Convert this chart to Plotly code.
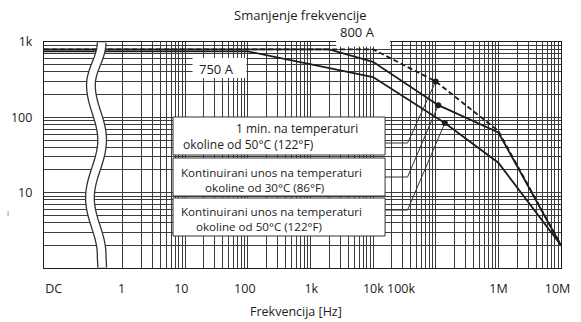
import numpy as np
import plotly.graph_objects as go

# ---- figure geometry -------------------------------------------------------
W, H = 581, 322
L, R, T, B = 41, 11, 42, 54
PW, PH = W - L - R, H - T - B
XR = (-1.25, 7.0)          # log10(Hz); the strip left of 1 Hz stands for DC
YR = (0.0, 3.0)            # log10(A)


def fx(px):
    """horizontal pixel -> frequency in Hz"""
    return 10 ** (XR[0] + (px - L) / PW * (XR[1] - XR[0]))


def fy(py):
    """vertical pixel -> current in A"""
    return 10 ** (YR[1] - (py - T) / PH * (YR[1] - YR[0]))


def paper_x(px):
    return (px - L) / PW


def paper_y(py):
    return 1 - (py - T) / PH


# ---- data ------------------------------------------------------------------
DC = 10 ** XR[0]           # DC is drawn at the left edge of the axis

freq_1min_50c = [DC, 1e4, 1e5, 1e6, 1e7]
amp_1min_50c = [800, 800, 300, 66, 2]

freq_cont_30c = [DC, 2e3, 1e4, 1.1e5, 1e6, 1e7]
amp_cont_30c = [800, 800, 545, 145, 63, 2]

freq_cont_50c = [DC, 100, 1e4, 1.4e5, 1e6, 1e7]
amp_cont_50c = [750, 750, 343, 84, 25, 2]

# marked points that the captions point at
dot_freq = [1e5, 1.1e5, 1.4e5]
dot_amp = [300, 145, 84]

caption_lines = [
    ("1 min. na temperaturi", "okoline od 50°C (122°F)"),
    ("Kontinuirani unos na temperaturi", "okoline od 30°C (86°F)"),
    ("Kontinuirani unos na temperaturi", "okoline od 50°C (122°F)"),
]

x_tick_text = ["DC", "1", "10", "100", "1k", "10k 100k", "1M", "10M"]
x_tick_px = [51, 120.5, 181.5, 246.5, 314.5, 394, 506, 566.5]
y_tick_vals = [10, 100, 1000]
y_tick_text = ["10", "100", "1k"]

# grid lines: every 1..9 step of each decade
x_grid = [m * 10 ** e for e in range(0, 7) for m in range(1, 10)] + [1e7]
y_minor = [m * 10 ** e for e in range(0, 3) for m in range(2, 10)]

INK = "#1c1c1c"
GRID = "#3c3c3c"
FONT = "Open Sans"
NB = "\u00a0"

fig = go.Figure()

line_style = dict(color=INK, width=1.8)
fig.add_trace(go.Scatter(x=freq_cont_50c, y=amp_cont_50c, mode="lines",
                         line=line_style, hoverinfo="skip"))
fig.add_trace(go.Scatter(x=freq_cont_30c, y=amp_cont_30c, mode="lines",
                         line=line_style, hoverinfo="skip"))
fig.add_trace(go.Scatter(x=freq_1min_50c, y=amp_1min_50c, mode="lines",
                         line=dict(color=INK, width=1.8, dash="5px,3px"),
                         hoverinfo="skip"))

# caption boxes and their leader lines
box_x0, box_x1, knee_x = 173, 390, 413
# (top, bottom, leader y, text left, text centre y, indent of 2nd line in spaces)
boxes = [(117, 155, 143, None, None, None),
         (158, 196, 177, 180, 179.5, 8),
         (198, 236, 210, 180, 218.5, 5)]

shapes = []
annotations = []
for (y0, y1, yl, tx, ty, ind), fd, ad, (t1, t2) in zip(boxes, dot_freq, dot_amp, caption_lines):
    fig.add_trace(go.Scatter(x=[fx(box_x1), fx(knee_x), fd],
                             y=[fy(yl), fy(yl), ad],
                             mode="lines", line=dict(color="#333333", width=1),
                             hoverinfo="skip"))
    shapes.append(dict(type="rect", xref="paper", yref="paper",
                       x0=paper_x(box_x0), x1=paper_x(box_x1),
                       y0=paper_y(y1), y1=paper_y(y0),
                       fillcolor="white", line=dict(color="#333333", width=1),
                       layer="above"))
    if tx is None:
        # first caption: two separately centred lines
        for txt, (cx, cy) in ((t1, (300, 128.5)), (t2, (250, 144.5))):
            annotations.append(dict(text=txt, xref="paper", yref="paper",
                                    x=paper_x(cx), y=paper_y(cy),
                                    xanchor="center", yanchor="middle",
                                    showarrow=False,
                                    font=dict(family=FONT, size=12, color=INK)))
    else:
        annotations.append(dict(text=t1 + "<br>" + NB * ind + t2,
                                xref="paper", yref="paper",
                                x=paper_x(tx), y=paper_y(ty),
                                xanchor="left", yanchor="middle", align="left",
                                showarrow=False, borderpad=0,
                                font=dict(family=FONT, size=11.6, color=INK)))

fig.add_trace(go.Scatter(x=dot_freq, y=dot_amp, mode="markers",
                         marker=dict(color=INK, size=6), hoverinfo="skip"))

# white plates behind the "750 A" and "800 A" labels
for (x0, y0, x1, y1), txt, (cx, cy) in (((193, 58, 248, 78), "750 A", (217, 68.5)),
                                         ((340, 23, 395, 46.5), "800 A", (362, 32))):
    shapes.append(dict(type="rect", xref="paper", yref="paper",
                       x0=paper_x(x0), x1=paper_x(x1),
                       y0=paper_y(y1), y1=paper_y(y0),
                       fillcolor="white", line=dict(width=0), layer="above"))
    annotations.append(dict(text=txt, xref="paper", yref="paper",
                            x=paper_x(cx), y=paper_y(cy),
                            xanchor="center", yanchor="middle", showarrow=False,
                            font=dict(family=FONT, size=13, color=INK)))

# axis break between DC and 1 Hz: a wavy white band with dark edges
keys = [(42.5, 100), (85, 89), (140, 100.5), (198, 88), (255, 100), (267.5, 100.5)]
pts = []
for (ya, xa), (yb, xb) in zip(keys[:-1], keys[1:]):
    for t in np.linspace(0, 1, 16, endpoint=False):
        s = (1 - np.cos(np.pi * t)) / 2
        pts.append((xa + (xb - xa) * s, ya + (yb - ya) * t))
pts.append((keys[-1][1], keys[-1][0]))
path = "M " + " L ".join(f"{paper_x(x):.5f},{paper_y(y):.5f}" for x, y in pts)
shapes.append(dict(type="path", path=path, xref="paper", yref="paper",
                   line=dict(color="#333333", width=10), layer="above"))
shapes.append(dict(type="path", path=path, xref="paper", yref="paper",
                   line=dict(color="white", width=7.4), layer="above"))

# titles
annotations.append(dict(text="Smanjenje frekvencije", xref="paper", yref="paper",
                        x=paper_x(303.5), y=paper_y(15.5), xanchor="center",
                        yanchor="middle", showarrow=False,
                        font=dict(family=FONT, size=13, color=INK)))
annotations.append(dict(text="Frekvencija [Hz]", xref="paper", yref="paper",
                        x=paper_x(299), y=paper_y(311), xanchor="center",
                        yanchor="middle", showarrow=False,
                        font=dict(family=FONT, size=12.5, color=INK)))
annotations.append(dict(text="i", xref="paper", yref="paper",
                        x=paper_x(4), y=paper_y(212), xanchor="center",
                        yanchor="middle", showarrow=False,
                        font=dict(family=FONT, size=8, color="#666666")))

fig.update_layout(
    width=W, height=H,
    margin=dict(l=L, r=R, t=T, b=B, pad=0),
    paper_bgcolor="white", plot_bgcolor="white",
    showlegend=False,
    shapes=shapes, annotations=annotations,
    xaxis=dict(type="log", range=list(XR), showgrid=False, zeroline=False,
               tickmode="array", tickvals=[fx(p) for p in x_tick_px],
               ticktext=x_tick_text, ticks="", ticklabelstandoff=9,
               tickfont=dict(family=FONT, size=12.5, color=INK),
               showline=True, mirror=True, linecolor=INK, linewidth=1.2,
               minor=dict(tickmode="array", tickvals=x_grid, showgrid=True,
                          gridcolor=GRID, gridwidth=1, ticks="")),
    yaxis=dict(type="log", range=list(YR), zeroline=False,
               tickmode="array", tickvals=y_tick_vals, ticktext=y_tick_text,
               ticks="", ticklabelstandoff=8,
               tickfont=dict(family=FONT, size=12.5, color=INK),
               showgrid=True, gridcolor=GRID, gridwidth=1,
               showline=True, mirror=True, linecolor=INK, linewidth=1.2,
               minor=dict(tickmode="array", tickvals=y_minor, showgrid=True,
                          gridcolor=GRID, gridwidth=1, ticks="")),
)

fig.write_html("out.html")
